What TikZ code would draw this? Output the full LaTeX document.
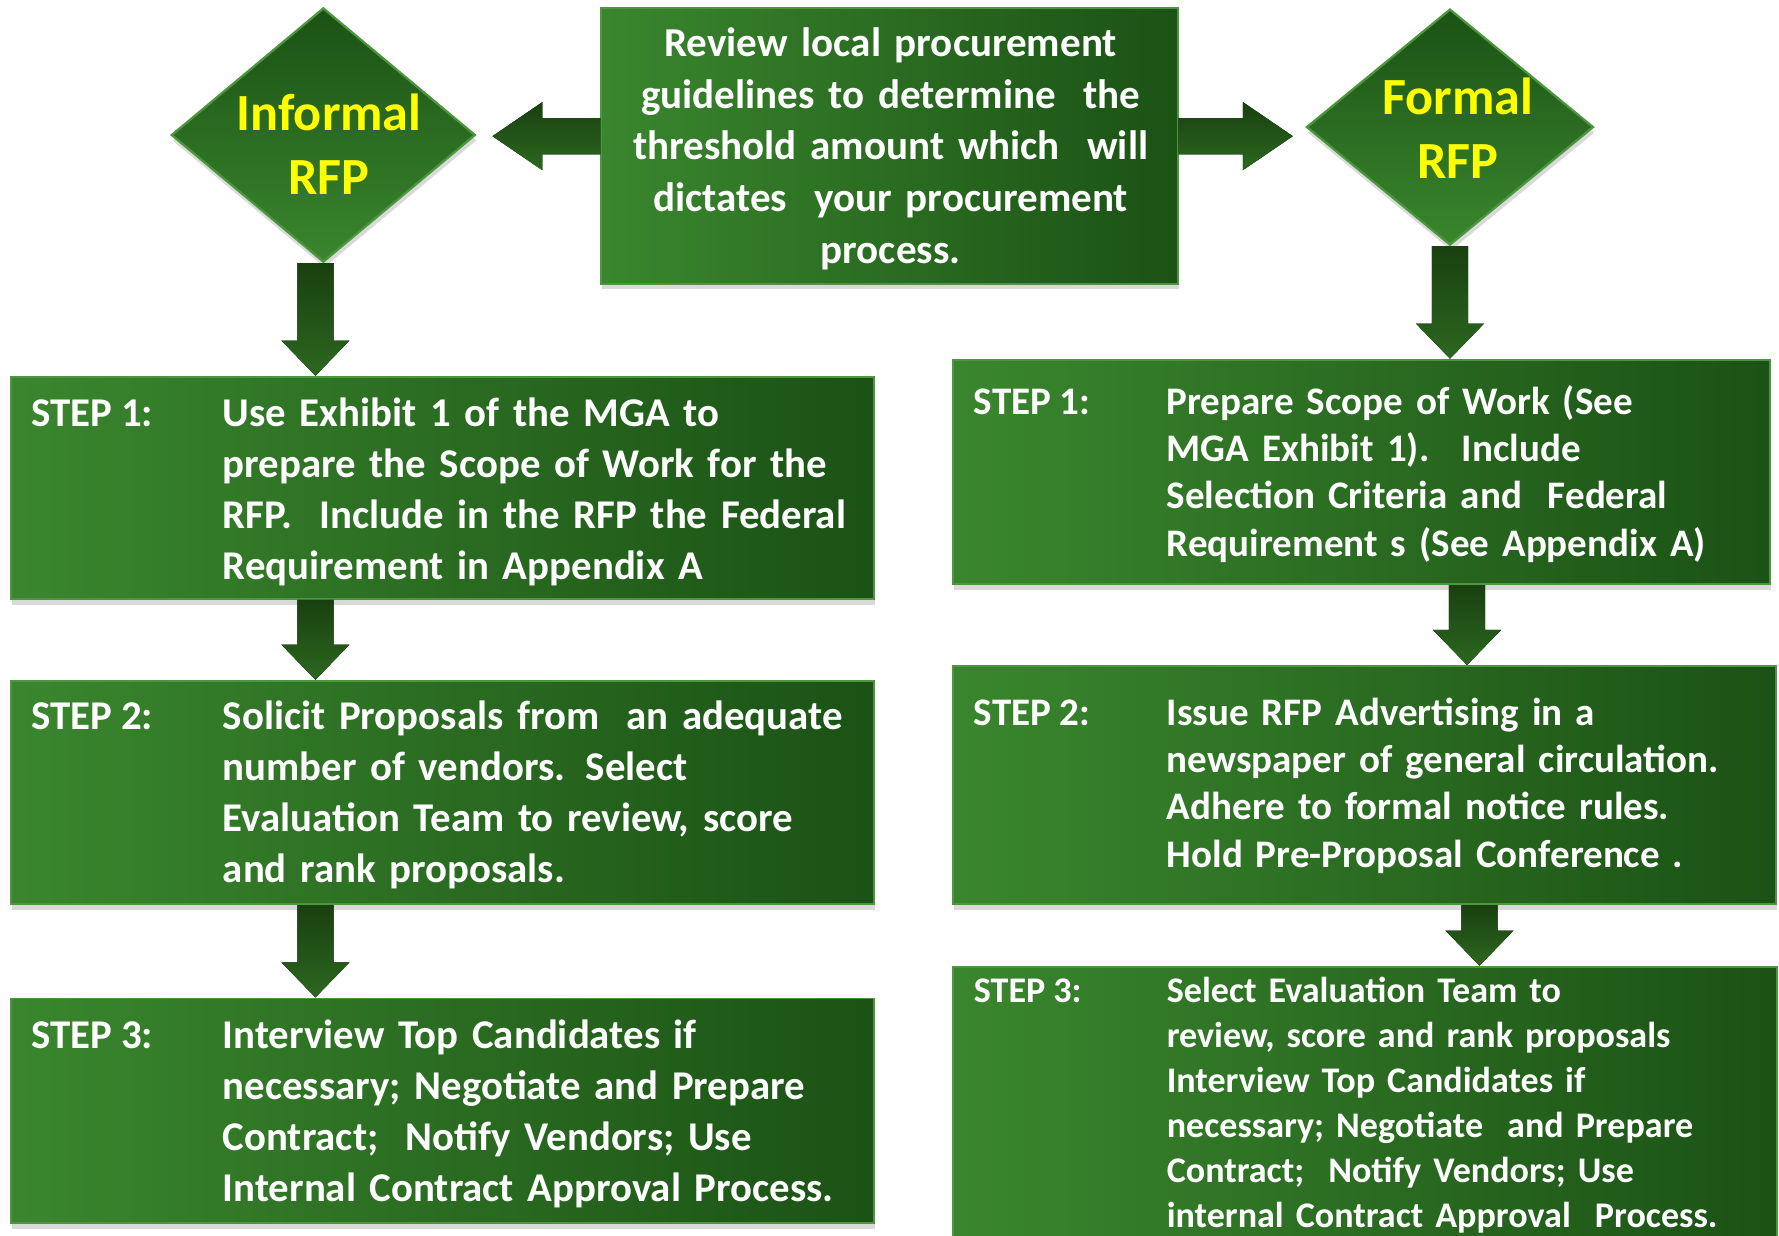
\documentclass[tikz,border=0pt]{standalone}
\usepackage{fontspec}
\setmainfont{Carlito}
\usetikzlibrary{shapes.geometric,fit,shadows,calc}

\definecolor{boxlight}{RGB}{58,134,46}
\definecolor{boxdark}{RGB}{27,82,21}
\definecolor{edgegreen}{RGB}{76,150,62}
\definecolor{arrowdark}{RGB}{25,64,15}
\definecolor{arrowlight}{RGB}{44,104,32}
\definecolor{rfpyellow}{RGB}{255,255,0}

\newcommand{\midfont}{\fontsize{18.1}{22.75}\selectfont\bfseries}
\newcommand{\leftfont}{\fontsize{18}{22.5}\selectfont\bfseries}
\newcommand{\rightfont}{\fontsize{17.2}{20.9}\selectfont\bfseries}
\newcommand{\lastfont}{\fontsize{15.9}{19.75}\selectfont\bfseries}
\newcommand{\rfpfont}{\fontsize{23}{28}\selectfont\bfseries}

\tikzset{
  stepbox/.style={rectangle, inner sep=0pt, draw=edgegreen, line width=0.8pt,
    left color=boxlight, right color=boxdark,
    drop shadow={shadow xshift=0.5pt, shadow yshift=-2.5pt, opacity=0.3}},
  decision/.style={diamond, inner sep=0pt, draw=edgegreen, line width=1pt,
    top color=boxdark, bottom color=boxlight,
    drop shadow={shadow xshift=0.5pt, shadow yshift=-2.5pt, opacity=0.3}},
  fatarrow/.style={top color=arrowdark, bottom color=arrowlight},
  rfptext/.style={anchor=base, align=center, text width=140pt, inner sep=0pt, text=rfpyellow, font=\rfpfont},
  steplabel/.style={anchor=base west, inner sep=0pt, text=white},
  steptext/.style={anchor=base west, inner sep=0pt, text=white, align=left, text width=300pt},
}

% block arrow pointing down: x, from node, to node
\newcommand{\fatdown}[3]{%
  \fill[fatarrow] let \p1=(#1,0 |- #2.south), \p2=(#1,0 |- #3.north) in
    ({\x1-8pt},\y1) -- ({\x1+8pt},\y1) -- ({\x1+8pt},{\y2+15.5pt}) -- ({\x1+15pt},{\y2+15.5pt})
    -- (\x1,\y2) -- ({\x1-15pt},{\y2+15.5pt}) -- ({\x1-8pt},{\y2+15.5pt}) -- cycle;}
% block arrow sideways: y, from anchor, tip, signed head length
\newcommand{\fatside}[4]{%
  \fill[fatarrow] let \p1=(#2 |- 0,#1), \p2=(#3 |- 0,#1) in
    (\x1,{\y1+8pt}) -- ({\x2-(#4)},{\y1+8pt}) -- ({\x2-(#4)},{\y1+15pt}) -- (\x2,\y1)
    -- ({\x2-(#4)},{\y1-15pt}) -- ({\x2-(#4)},{\y1-8pt}) -- (\x1,{\y1-8pt}) -- cycle;}

\begin{document}
\begin{tikzpicture}[x=0.5pt, y=-0.5pt]
  \useasboundingbox (0,0) rectangle (1568,1089);

  \node[stepbox, fit={(530,7) (1038,250)}] (guide) {};
  \node[anchor=base, align=center, text width=270pt, inner sep=0pt, text=white, font=\midfont] at (785,50) (guidetext)
    {Review local procurement\\ guidelines to determine~ the\\ threshold amount which~ will\\ dictates~ your procurement\\ process.};

  \node[decision, minimum width=134pt, minimum height=112pt] at (285,119) (inf) {};
  \node[rfptext] at (290,115) (inftext) {Informal\\RFP};
  \node[decision, minimum width=126.5pt, minimum height=104pt] at (1278,112) (fml) {};
  \node[rfptext] at (1285,101) (fmltext) {Formal\\RFP};

  \coordinate (inftip) at ($(inf.east)+(14,0)$);
  \coordinate (fmltip) at ($(fml.west)+(-11,0)$);
  \fatside{120}{guide.west}{inftip}{-22pt}
  \fatside{120}{guide.east}{fmltip}{22pt}

  % informal steps
  \node[stepbox, fit={(10,332) (770,528)}] (inf1) {};
  \node[steplabel, font=\leftfont] at (27,376) (inf1step) {STEP 1:};
  \node[steptext, font=\leftfont] at (196,376) (inf1text)
    {Use Exhibit 1 of the MGA to\\ prepare the Scope of Work for the\\ RFP.~ Include in the RFP the Federal\\ Requirement in Appendix A};
  \node[stepbox, fit={(10,600) (770,797)}] (inf2) {};
  \node[steplabel, font=\leftfont] at (27,643) (inf2step) {STEP 2:};
  \node[steptext, font=\leftfont] at (196,643) (inf2text)
    {Solicit Proposals from~ an adequate\\ number of vendors. Select\\ Evaluation Team to review, score\\ and rank proposals.};
  \node[stepbox, fit={(10,880) (770,1078)}] (inf3) {};
  \node[steplabel, font=\leftfont] at (27,924) (inf3step) {STEP 3:};
  \node[steptext, font=\leftfont] at (196,924) (inf3text)
    {Interview Top Candidates if\\ necessary; Negotiate and Prepare\\ Contract;~ Notify Vendors; Use\\ Internal Contract Approval Process.};

  % formal steps
  \node[stepbox, fit={(840,317) (1560,515)}] (fml1) {};
  \node[steplabel, font=\rightfont] at (858,365) (fml1step) {STEP 1:};
  \node[steptext, font=\rightfont] at (1028,365) (fml1text)
    {Prepare Scope of Work (See\\ MGA Exhibit 1).~ Include\\ Selection Criteria and~ Federal\\ Requirement s (See Appendix A)};
  \node[stepbox, fit={(840,587) (1565,797)}] (fml2) {};
  \node[steplabel, font=\rightfont] at (858,639) (fml2step) {STEP 2:};
  \node[steptext, font=\rightfont] at (1028,639) (fml2text)
    {Issue RFP Advertising in a\\ newspaper of general circulation.\\ Adhere to formal notice rules.\\ Hold Pre-Proposal Conference .};
  \node[stepbox, fit={(840,852) (1566,1110)}] (fml3) {};
  \node[steplabel, font=\lastfont] at (858,884) (fml3step) {STEP 3:};
  \node[steptext, font=\lastfont] at (1028,884) (fml3text)
    {Select Evaluation Team to\\ review, score and rank proposals\\ Interview Top Candidates if\\ necessary; Negotiate~ and Prepare\\ Contract;~ Notify Vendors; Use\\ internal Contract Approval~ Process.};

  \fatdown{278}{inf}{inf1}
  \fatdown{278}{inf1}{inf2}
  \fatdown{278}{inf2}{inf3}
  \fatdown{1278}{fml}{fml1}
  \fatdown{1293}{fml1}{fml2}
  \fatdown{1304}{fml2}{fml3}
\end{tikzpicture}
\end{document}
